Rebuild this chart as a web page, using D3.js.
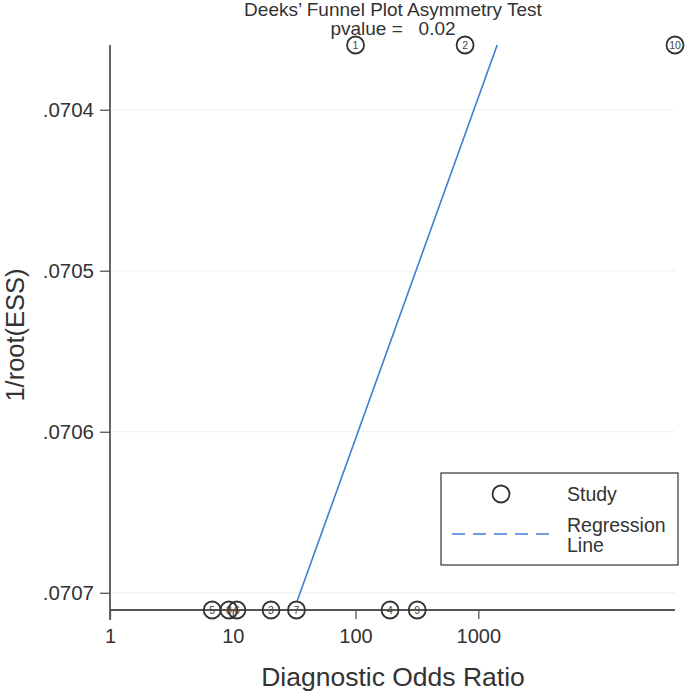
<!DOCTYPE html>
<html>
<head>
<meta charset="utf-8">
<script src="https://cdn.jsdelivr.net/npm/d3@7"></script>
<style>
  body { margin: 0; background: #fff; }
  text { font-family: "Liberation Sans", Arial, Helvetica, sans-serif; fill: #333; }
</style>
</head>
<body>
<div id="chart"></div>
<script>
// studies: diagnostic odds ratio and 1/root(ESS)
const studyIds = ["1", "2", "10", "5", "8", "6", "3", "7", "4", "9"];
const studyDor = [100, 780, 40000, 6.8, 9.3, 10.8, 20.5, 33, 191, 318];
const studyInvEss = [0.0703598, 0.0703598, 0.0703598, 0.0707107, 0.0707107, 0.0707107, 0.0707107, 0.0707107, 0.0707107, 0.0707107];

// fitted regression line end points
const regDor = [33.5, 1425];
const regInvEss = [0.070705, 0.0703598];

const xTicks = [1, 10, 100, 1000];
const yTicks = [0.0704, 0.0705, 0.0706, 0.0707];

const titleText = "Deeks\u2019 Funnel Plot Asymmetry Test";
const pvalueText = "pvalue =   0.02";

const width = 685, height = 691;
const plotLeft = 110, plotRight = 675, plotTop = 45, plotBottom = 610;

const svg = d3.select("#chart").append("svg")
  .attr("width", width)
  .attr("height", height);

const x = d3.scaleLog().domain([1, 40000]).range([plotLeft, plotRight]);
const y = d3.scaleLinear().domain([0.0703598, 0.0707107]).range([plotTop, plotBottom]);

// faint grid
svg.append("g")
  .selectAll("line")
  .data(yTicks)
  .enter().append("line")
  .attr("x1", plotLeft).attr("x2", plotRight)
  .attr("y1", d => y(d)).attr("y2", d => y(d))
  .style("stroke", "#eaf2f3")
  .style("stroke-width", 1);

// regression line
const studies = studyIds.map((id, i) => ({ id: id, dor: studyDor[i], v: studyInvEss[i] }));
const reg = regDor.map((d, i) => ({ dor: d, v: regInvEss[i] }));

svg.append("path")
  .datum(reg)
  .attr("d", d3.line().x(d => x(d.dor)).y(d => y(d.v)))
  .style("stroke", "#3f7fd0")
  .style("stroke-width", 1.6)
  .style("fill", "none");

// axes
const yAxis = svg.append("g")
  .attr("transform", `translate(${plotLeft},0)`)
  .call(d3.axisLeft(y).tickValues(yTicks).tickSize(10).tickPadding(6)
    .tickFormat(d => d3.format(".4f")(d).replace(/^0/, "")));
yAxis.select(".domain").remove();
yAxis.selectAll(".tick line").style("stroke", "#555").style("stroke-width", 1.3);
yAxis.selectAll("text").style("font-size", "20.5px").style("fill", "#333");
svg.append("line")
  .attr("x1", plotLeft).attr("x2", plotLeft)
  .attr("y1", plotTop).attr("y2", plotBottom + 10)
  .style("stroke", "#555").style("stroke-width", 1.8);

const xAxis = svg.append("g")
  .attr("transform", `translate(0,${plotBottom})`)
  .call(d3.axisBottom(x).tickValues(xTicks).tickSize(9).tickPadding(10)
    .tickFormat(d3.format("d")));
xAxis.select(".domain").remove();
xAxis.selectAll(".tick line").style("stroke", "#555").style("stroke-width", 1.3);
xAxis.selectAll("text").style("font-size", "20px").style("fill", "#333");
svg.append("line")
  .attr("x1", plotLeft).attr("x2", plotRight)
  .attr("y1", plotBottom).attr("y2", plotBottom)
  .style("stroke", "#555").style("stroke-width", 2.2);

// study circles
const pts = svg.append("g").selectAll("g")
  .data(studies)
  .enter().append("g")
  .attr("transform", d => `translate(${x(d.dor)},${y(d.v)})`);
pts.append("circle")
  .attr("r", 8.5)
  .style("fill", "none")
  .style("stroke", "#333")
  .style("stroke-width", 1.8);
pts.append("text")
  .attr("text-anchor", "middle")
  .attr("dy", "0.36em")
  .style("font-size", "10.5px")
  .style("fill", "#444")
  .text(d => d.id);

// titles
svg.append("text")
  .attr("x", 393).attr("y", 16)
  .attr("text-anchor", "middle")
  .style("font-size", "19px")
  .text(titleText);
svg.append("text")
  .attr("x", 393).attr("y", 35)
  .attr("text-anchor", "middle")
  .style("font-size", "19px")
  .style("white-space", "pre")
  .text(pvalueText);

svg.append("text")
  .attr("transform", "translate(24,335) rotate(-90)")
  .attr("text-anchor", "middle")
  .style("font-size", "25.5px")
  .text("1/root(ESS)");

svg.append("text")
  .attr("x", 393).attr("y", 686)
  .attr("text-anchor", "middle")
  .style("font-size", "26.5px")
  .text("Diagnostic Odds Ratio");

// legend
const lg = svg.append("g").attr("transform", "translate(441,473)");
lg.append("rect")
  .attr("width", 237).attr("height", 92)
  .style("fill", "#fff")
  .style("stroke", "#333")
  .style("stroke-width", 1.2);
lg.append("circle")
  .attr("cx", 60).attr("cy", 21).attr("r", 8.5)
  .style("fill", "none").style("stroke", "#333").style("stroke-width", 1.8);
lg.append("text").attr("x", 126).attr("y", 28).style("font-size", "19.5px").text("Study");
lg.append("line")
  .attr("x1", 11).attr("x2", 111).attr("y1", 61).attr("y2", 61)
  .style("stroke", "#3f7fd0").style("stroke-width", 1.6)
  .style("stroke-dasharray", "13,8");
lg.append("text").attr("x", 126).attr("y", 59).style("font-size", "19.5px").text("Regression");
lg.append("text").attr("x", 126).attr("y", 79).style("font-size", "19.5px").text("Line");
</script>
</body>
</html>
